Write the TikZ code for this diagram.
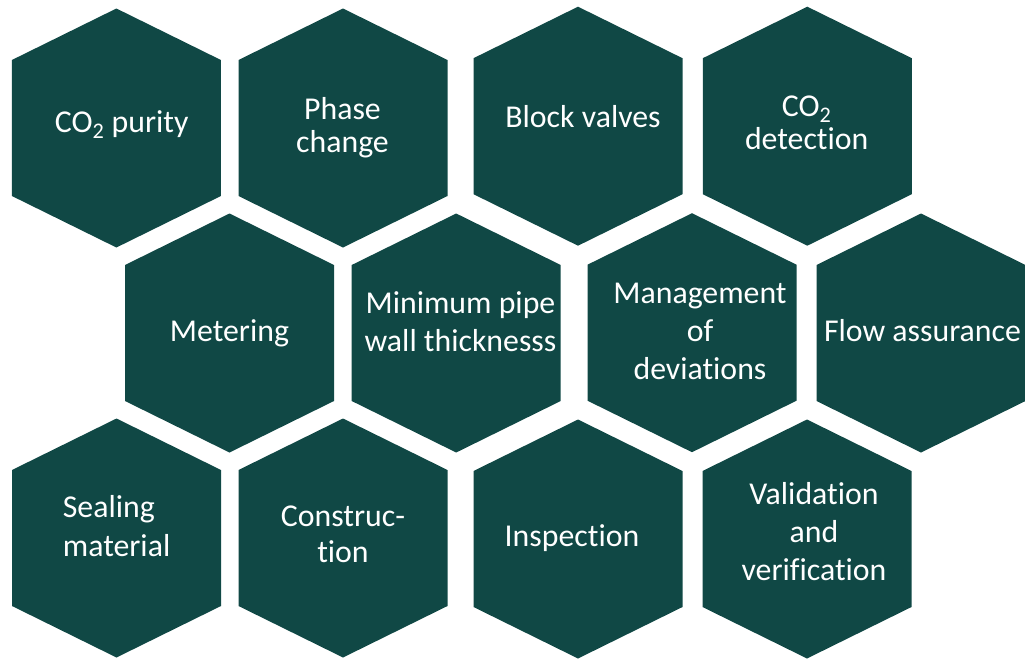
\documentclass[tikz,border=0pt]{standalone}
\usepackage{fontspec}
\setmainfont{Carlito}[Ligatures=NoCommon]
\definecolor{hexTeal}{RGB}{16, 72, 69}
\usepackage{tikz}
\newcommand{\hexTop}{\rule{0pt}{0.7\baselineskip}}
\newcommand{\hexBot}{\rule[-0.3\baselineskip]{0pt}{0.3\baselineskip}}

\begin{document}
\begin{tikzpicture}[x=1pt, y=-1pt,
  hexfill/.style={fill=hexTeal},
  hextext/.style={text=white, align=center, inner sep=0pt,
              font=\fontsize{31.8}{38}\selectfont,
              execute at begin node=\hexTop, execute at end node=\hexBot},
]
  \useasboundingbox (0,0) rectangle (1025,664);
  \clip (0,0) rectangle (1025,664);

  % honeycomb cells
  \foreach \cx/\cy in {116.4/128, 343/128, 578/126.2, 807.3/126.2,
                       229.5/333, 456.2/333, 692/332.7, 921/333,
                       116.5/538, 343/538, 578/539, 807/539}
    \fill[hexfill] (\cx-104.5,\cy-68) -- (\cx,\cy-119.5) -- (\cx+104.5,\cy-68)
      -- (\cx+104.5,\cy+68) -- (\cx,\cy+119.5) -- (\cx-104.5,\cy+68) -- cycle;

  % top row
  \node[hextext] (purity) at (121.7,125.1) {CO\textsubscript{2} purity};
  \node[hextext] (phase) at (342.5,130.6) {Phase\\[-4.5pt]change};
  \node[hextext] (valves) at (583,120.1) {Block valves};
  \node[hextext] (detect) at (806.7,128.6) {CO\textsubscript{2}\\[-5pt]detection};

  % middle row
  \node[hextext] (meter) at (229.5,334.1) {Metering};
  \node[hextext] (wall) at (460.5,326.9) {Minimum pipe\\wall thicknesss};
  \node[hextext] (deviate) at (700,336.8) {Management\\of\\deviations};
  \node[hextext] (flow) at (922.5,334.1) {Flow assurance};

  % bottom row
  \node[hextext, align=left, anchor=west] (seal) at (62.7,531.9) {Sealing\\[1pt]material};
  \node[hextext] (build) at (343,539.4) {Construc-\\[-2pt]tion};
  \node[hextext] (inspect) at (572,539.1) {Inspection};
  \node[hextext] (verify) at (814,536.8) {Validation\\and\\verification};
\end{tikzpicture}
\end{document}
